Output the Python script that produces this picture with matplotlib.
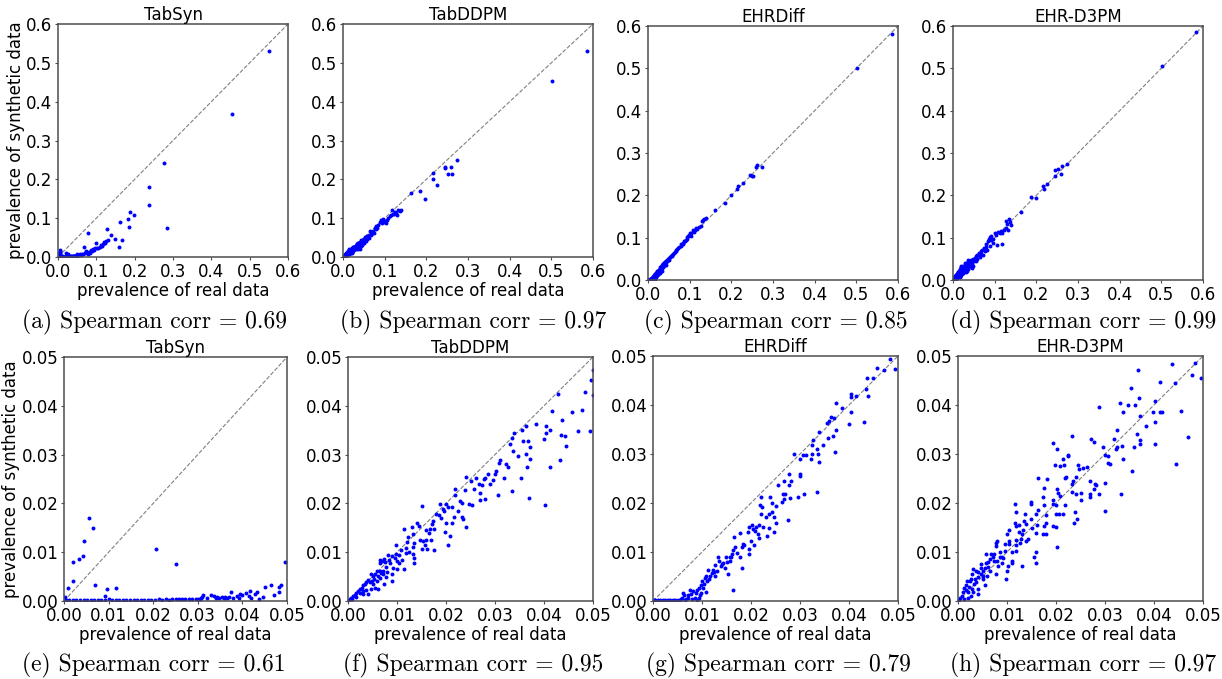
import numpy as np
import matplotlib
matplotlib.use("Agg")
import matplotlib.pyplot as plt

# ---------------- data (prevalence real, prevalence synthetic) ----------------
models = ["TabSyn", "TabDDPM", "EHRDiff", "EHR-D3PM"]
spearman_top = ["0.69", "0.97", "0.85", "0.99"]
spearman_bottom = ["0.61", "0.95", "0.79", "0.97"]
letters_top = ["a", "b", "c", "d"]
letters_bottom = ["e", "f", "g", "h"]
top_ticks = [0.0, 0.1, 0.2, 0.3, 0.4, 0.5, 0.6]
bottom_ticks = [0.00, 0.01, 0.02, 0.03, 0.04, 0.05]

# low-prevalence codes (x < 0.05)
tabsyn_low = [
    (0.0055, 0.0171), (0.0065, 0.0149), (0.0044, 0.0122), (0.0042, 0.0093), (0.0033, 0.0087),
    (0.0021, 0.0079), (0.0021, 0.0042), (0.0010, 0.0027), (0.0069, 0.0033), (0.0097, 0.0025),
    (0.0116, 0.0027), (0.0093, 0.0010), (0.0207, 0.0106), (0.0251, 0.0076), (0.0496, 0.0079),
    (0.0487, 0.0033), (0.0481, 0.0028), (0.0482, 0.0018), (0.0464, 0.0032), (0.0451, 0.0028),
    (0.0446, 0.0009), (0.0432, 0.0018), (0.0428, 0.0015), (0.0416, 0.0021), (0.0414, 0.0011),
    (0.0407, 0.0016), (0.0400, 0.0012), (0.0394, 0.0014), (0.0388, 0.0010), (0.0375, 0.0018),
    (0.0370, 0.0008), (0.0366, 0.0006), (0.0362, 0.0009), (0.0358, 0.0006), (0.0354, 0.0008),
    (0.0348, 0.0006), (0.0344, 0.0009), (0.0340, 0.0007), (0.0336, 0.0011), (0.0330, 0.0013),
    (0.0312, 0.0013), (0.0310, 0.0009), (0.0308, 0.0006), (0.0305, 0.0004), (0.0300, 0.0005),
    (0.0295, 0.0004), (0.0288, 0.0005), (0.0280, 0.0004), (0.0272, 0.0005), (0.0265, 0.0004),
    (0.0258, 0.0004), (0.0250, 0.0004), (0.0243, 0.0005), (0.0236, 0.0003), (0.0228, 0.0004),
    (0.0220, 0.0003), (0.0212, 0.0004), (0.0204, 0.0003), (0.0196, 0.0003), (0.0188, 0.0002),
    (0.0180, 0.0003), (0.0172, 0.0002), (0.0164, 0.0003), (0.0156, 0.0002), (0.0148, 0.0002),
    (0.0140, 0.0002), (0.0132, 0.0002), (0.0124, 0.0003), (0.0116, 0.0002), (0.0108, 0.0002),
    (0.0100, 0.0004), (0.0092, 0.0002), (0.0084, 0.0002), (0.0076, 0.0002), (0.0068, 0.0002),
    (0.0060, 0.0002), (0.0052, 0.0002), (0.0044, 0.0002), (0.0036, 0.0002), (0.0028, 0.0002),
    (0.0020, 0.0002), (0.0012, 0.0002), (0.0005, 0.0003), (0.0003, 0.0008), (0.0378, 0.0006),
    (0.0392, 0.0007), (0.0420, 0.0006), (0.0438, 0.0005), (0.0470, 0.0012), (0.0320, 0.0006),
]

tabddpm_low = [
    (0.0499, 0.0473), (0.0495, 0.0453), (0.0499, 0.0423), (0.0484, 0.0429), (0.0429, 0.0425),
    (0.0416, 0.0389), (0.0458, 0.0387), (0.0477, 0.0392), (0.0436, 0.0370), (0.0404, 0.0359),
    (0.0383, 0.0363), (0.0363, 0.0358), (0.0356, 0.0351), (0.0413, 0.0351), (0.0404, 0.0344),
    (0.0338, 0.0345), (0.0334, 0.0334), (0.0399, 0.0332), (0.0434, 0.0340), (0.0442, 0.0338),
    (0.0445, 0.0318), (0.0470, 0.0348), (0.0493, 0.0349), (0.0331, 0.0322), (0.0358, 0.0327),
    (0.0367, 0.0327), (0.0372, 0.0316), (0.0337, 0.0308), (0.0346, 0.0297), (0.0364, 0.0301),
    (0.0372, 0.0290), (0.0310, 0.0288), (0.0308, 0.0282), (0.0323, 0.0281), (0.0326, 0.0275),
    (0.0365, 0.0275), (0.0412, 0.0275), (0.0432, 0.0289), (0.0303, 0.0267), (0.0286, 0.0260),
    (0.0299, 0.0260), (0.0296, 0.0248), (0.0319, 0.0253), (0.0353, 0.0253), (0.0307, 0.0218),
    (0.0334, 0.0226), (0.0369, 0.0211), (0.0402, 0.0197), (0.0280, 0.0253), (0.0277, 0.0250),
    (0.0267, 0.0240), (0.0274, 0.0237), (0.0262, 0.0253), (0.0241, 0.0255), (0.0250, 0.0245),
    (0.0269, 0.0221), (0.0269, 0.0207), (0.0280, 0.0210), (0.0254, 0.0196), (0.0247, 0.0199),
    (0.0239, 0.0228), (0.0218, 0.0229), (0.0218, 0.0218), (0.0228, 0.0205), (0.0233, 0.0201),
    (0.0232, 0.0173), (0.0235, 0.0168), (0.0241, 0.0152), (0.0213, 0.0193), (0.0205, 0.0192),
    (0.0201, 0.0199), (0.0193, 0.0188), (0.0195, 0.0184), (0.0187, 0.0198), (0.0179, 0.0179),
    (0.0186, 0.0177), (0.0216, 0.0173), (0.0213, 0.0159), (0.0201, 0.0159), (0.0197, 0.0142),
    (0.0209, 0.0133), (0.0205, 0.0115), (0.0173, 0.0164), (0.0172, 0.0158), (0.0175, 0.0147),
    (0.0167, 0.0147), (0.0160, 0.0145), (0.0165, 0.0140), (0.0150, 0.0195), (0.0141, 0.0160),
    (0.0145, 0.0153), (0.0130, 0.0152), (0.0122, 0.0132), (0.0133, 0.0137), (0.0146, 0.0125),
    (0.0153, 0.0123), (0.0160, 0.0126), (0.0157, 0.0114), (0.0162, 0.0107), (0.0176, 0.0104),
    (0.0152, 0.0107), (0.0135, 0.0118), (0.0133, 0.0110), (0.0133, 0.0096), (0.0135, 0.0089),
    (0.0134, 0.0077), (0.0114, 0.0148), (0.0119, 0.0108), (0.0118, 0.0099), (0.0108, 0.0104),
    (0.0110, 0.0085), (0.0105, 0.0095), (0.0097, 0.0114), (0.0097, 0.0096), (0.0090, 0.0092),
    (0.0095, 0.0088), (0.0084, 0.0085), (0.0082, 0.0095), (0.0074, 0.0086), (0.0070, 0.0082),
    (0.0065, 0.0085), (0.0065, 0.0077), (0.0076, 0.0079), (0.0085, 0.0078), (0.0099, 0.0082),
    (0.0105, 0.0078), (0.0114, 0.0066), (0.0100, 0.0066), (0.0092, 0.0067), (0.0078, 0.0070),
    (0.0071, 0.0062), (0.0065, 0.0062), (0.0059, 0.0062), (0.0056, 0.0055), (0.0062, 0.0051),
    (0.0071, 0.0055), (0.0077, 0.0049), (0.0089, 0.0055), (0.0089, 0.0041), (0.0074, 0.0034),
    (0.0066, 0.0047), (0.0059, 0.0041), (0.0046, 0.0055), (0.0050, 0.0051), (0.0041, 0.0044),
    (0.0044, 0.0038), (0.0052, 0.0034), (0.0056, 0.0027), (0.0061, 0.0025), (0.0046, 0.0025),
    (0.0037, 0.0038), (0.0035, 0.0034), (0.0031, 0.0032), (0.0029, 0.0027), (0.0036, 0.0022),
    (0.0041, 0.0015), (0.0024, 0.0025), (0.0021, 0.0021), (0.0025, 0.0016), (0.0017, 0.0016),
    (0.0014, 0.0012), (0.0010, 0.0010), (0.0007, 0.0007), (0.0005, 0.0004), (0.0003, 0.0002),
    (0.0009, 0.0004), (0.0017, 0.0008), (0.0031, 0.0014), (0.0048, 0.0040), (0.0054, 0.0046),
    (0.0068, 0.0058), (0.0080, 0.0060), (0.0120, 0.0120), (0.0125, 0.0100), (0.0170, 0.0126),
    (0.0190, 0.0170), (0.0225, 0.0185), (0.0258, 0.0230), (0.0290, 0.0240), (0.0030, 0.0020),
]

ehrdiff_low = [
    (0.0484, 0.0493), (0.0494, 0.0474), (0.0472, 0.0471), (0.0457, 0.0475), (0.0437, 0.0455),
    (0.0448, 0.0455), (0.0434, 0.0432), (0.0415, 0.0419), (0.0404, 0.0423), (0.0405, 0.0416),
    (0.0438, 0.0418), (0.0404, 0.0385), (0.0401, 0.0361), (0.0430, 0.0366), (0.0385, 0.0393),
    (0.0374, 0.0404), (0.0370, 0.0373), (0.0364, 0.0375), (0.0360, 0.0368), (0.0355, 0.0364),
    (0.0374, 0.0348), (0.0367, 0.0337), (0.0358, 0.0332), (0.0338, 0.0344), (0.0327, 0.0329),
    (0.0325, 0.0319), (0.0347, 0.0319), (0.0334, 0.0310), (0.0371, 0.0304), (0.0307, 0.0298),
    (0.0312, 0.0298), (0.0325, 0.0300), (0.0336, 0.0299), (0.0338, 0.0284), (0.0287, 0.0300),
    (0.0300, 0.0290), (0.0322, 0.0289), (0.0300, 0.0259), (0.0299, 0.0255), (0.0277, 0.0260),
    (0.0282, 0.0244), (0.0277, 0.0237), (0.0267, 0.0244), (0.0256, 0.0236), (0.0308, 0.0219),
    (0.0334, 0.0223), (0.0296, 0.0212), (0.0280, 0.0211), (0.0270, 0.0218), (0.0265, 0.0218),
    (0.0267, 0.0208), (0.0263, 0.0203), (0.0276, 0.0166), (0.0251, 0.0193), (0.0239, 0.0212),
    (0.0243, 0.0200), (0.0221, 0.0212), (0.0218, 0.0195), (0.0222, 0.0192), (0.0243, 0.0181),
    (0.0237, 0.0178), (0.0231, 0.0171), (0.0246, 0.0171), (0.0250, 0.0159), (0.0236, 0.0148),
    (0.0246, 0.0141), (0.0232, 0.0132), (0.0221, 0.0177), (0.0217, 0.0156), (0.0224, 0.0151),
    (0.0211, 0.0151), (0.0209, 0.0142), (0.0214, 0.0136), (0.0217, 0.0129), (0.0202, 0.0156),
    (0.0196, 0.0152), (0.0205, 0.0146), (0.0194, 0.0140), (0.0199, 0.0123), (0.0206, 0.0114),
    (0.0177, 0.0138), (0.0184, 0.0116), (0.0181, 0.0110), (0.0195, 0.0107), (0.0195, 0.0096),
    (0.0166, 0.0130), (0.0168, 0.0110), (0.0164, 0.0104), (0.0172, 0.0097), (0.0161, 0.0096),
    (0.0158, 0.0090), (0.0177, 0.0089), (0.0181, 0.0068), (0.0157, 0.0082), (0.0149, 0.0089),
    (0.0151, 0.0079), (0.0143, 0.0077), (0.0146, 0.0068), (0.0154, 0.0055), (0.0132, 0.0090),
    (0.0135, 0.0082), (0.0127, 0.0074), (0.0138, 0.0071), (0.0131, 0.0062), (0.0123, 0.0064),
    (0.0121, 0.0058), (0.0113, 0.0063), (0.0117, 0.0052), (0.0127, 0.0051), (0.0109, 0.0051),
    (0.0106, 0.0047), (0.0101, 0.0041), (0.0111, 0.0041), (0.0104, 0.0034), (0.0097, 0.0033),
    (0.0093, 0.0027), (0.0102, 0.0027), (0.0108, 0.0018), (0.0097, 0.0016), (0.0087, 0.0016),
    (0.0089, 0.0023), (0.0082, 0.0021), (0.0076, 0.0023), (0.0078, 0.0014), (0.0071, 0.0012),
    (0.0064, 0.0012), (0.0061, 0.0016), (0.0060, 0.0007), (0.0068, 0.0005), (0.0085, 0.0007),
    (0.0093, 0.0007), (0.0095, 0.0012), (0.0164, 0.0022), (0.0055, 0.0003), (0.0090, 0.0003),
    (0.0080, 0.0004), (0.0072, 0.0006), (0.0065, 0.0003), (0.0050, 0.0002), (0.0045, 0.0002),
    (0.0040, 0.0002), (0.0035, 0.0002), (0.0030, 0.0002), (0.0025, 0.0002), (0.0020, 0.0002),
    (0.0015, 0.0002), (0.0010, 0.0002), (0.0005, 0.0002), (0.0002, 0.0002), (0.0058, 0.0004),
    (0.0115, 0.0045), (0.0125, 0.0060), (0.0140, 0.0075), (0.0160, 0.0090), (0.0185, 0.0115),
]

ehrd3pm_low = [
    (0.0437, 0.0484), (0.0484, 0.0485), (0.0477, 0.0462), (0.0495, 0.0455), (0.0443, 0.0445),
    (0.0413, 0.0447), (0.0367, 0.0471), (0.0354, 0.0434), (0.0402, 0.0409), (0.0369, 0.0415),
    (0.0331, 0.0404), (0.0346, 0.0401), (0.0361, 0.0401), (0.0288, 0.0395), (0.0337, 0.0386),
    (0.0398, 0.0386), (0.0413, 0.0386), (0.0416, 0.0386), (0.0456, 0.0388), (0.0371, 0.0378),
    (0.0403, 0.0366), (0.0383, 0.0358), (0.0325, 0.0348), (0.0365, 0.0340), (0.0372, 0.0329),
    (0.0372, 0.0321), (0.0360, 0.0315), (0.0402, 0.0321), (0.0470, 0.0334), (0.0318, 0.0331),
    (0.0335, 0.0317), (0.0325, 0.0314), (0.0323, 0.0310), (0.0337, 0.0289), (0.0295, 0.0314),
    (0.0271, 0.0331), (0.0277, 0.0325), (0.0232, 0.0337), (0.0301, 0.0297), (0.0307, 0.0296),
    (0.0307, 0.0281), (0.0311, 0.0279), (0.0356, 0.0266), (0.0444, 0.0279), (0.0263, 0.0274),
    (0.0255, 0.0271), (0.0244, 0.0278), (0.0246, 0.0270), (0.0241, 0.0253), (0.0221, 0.0253),
    (0.0218, 0.0252), (0.0214, 0.0290), (0.0224, 0.0297), (0.0225, 0.0295), (0.0216, 0.0278),
    (0.0209, 0.0275), (0.0203, 0.0311), (0.0194, 0.0323), (0.0198, 0.0278), (0.0182, 0.0249),
    (0.0163, 0.0251), (0.0235, 0.0244), (0.0233, 0.0238), (0.0232, 0.0223), (0.0240, 0.0219),
    (0.0252, 0.0221), (0.0250, 0.0207), (0.0269, 0.0244), (0.0280, 0.0238), (0.0277, 0.0229),
    (0.0282, 0.0236), (0.0288, 0.0219), (0.0269, 0.0219), (0.0269, 0.0212), (0.0300, 0.0241),
    (0.0333, 0.0218), (0.0300, 0.0184), (0.0239, 0.0181), (0.0243, 0.0167), (0.0237, 0.0160),
    (0.0218, 0.0195), (0.0214, 0.0178), (0.0207, 0.0178), (0.0201, 0.0177), (0.0201, 0.0195),
    (0.0203, 0.0229), (0.0205, 0.0221), (0.0209, 0.0215), (0.0201, 0.0151), (0.0202, 0.0110),
    (0.0193, 0.0207), (0.0194, 0.0197), (0.0176, 0.0230), (0.0173, 0.0212), (0.0176, 0.0195),
    (0.0179, 0.0175), (0.0179, 0.0159), (0.0173, 0.0137), (0.0180, 0.0137), (0.0175, 0.0153),
    (0.0194, 0.0153), (0.0164, 0.0186), (0.0159, 0.0178), (0.0161, 0.0156), (0.0159, 0.0138),
    (0.0160, 0.0099), (0.0160, 0.0077), (0.0156, 0.0089), (0.0148, 0.0203), (0.0149, 0.0197),
    (0.0148, 0.0168), (0.0142, 0.0127), (0.0137, 0.0178), (0.0139, 0.0158), (0.0135, 0.0164),
    (0.0133, 0.0145), (0.0131, 0.0137), (0.0129, 0.0127), (0.0130, 0.0071), (0.0138, 0.0123),
    (0.0119, 0.0103), (0.0118, 0.0125), (0.0116, 0.0197), (0.0118, 0.0181), (0.0116, 0.0160),
    (0.0118, 0.0153), (0.0124, 0.0156), (0.0126, 0.0119), (0.0119, 0.0115), (0.0105, 0.0144),
    (0.0105, 0.0123), (0.0105, 0.0116), (0.0110, 0.0099), (0.0110, 0.0082), (0.0111, 0.0078),
    (0.0103, 0.0071), (0.0101, 0.0062), (0.0096, 0.0116), (0.0095, 0.0103), (0.0092, 0.0088),
    (0.0099, 0.0137), (0.0097, 0.0044), (0.0085, 0.0101), (0.0089, 0.0089), (0.0080, 0.0123),
    (0.0077, 0.0119), (0.0077, 0.0112), (0.0074, 0.0096), (0.0071, 0.0089), (0.0073, 0.0082),
    (0.0080, 0.0082), (0.0082, 0.0071), (0.0077, 0.0055), (0.0067, 0.0096), (0.0065, 0.0085),
    (0.0062, 0.0079), (0.0058, 0.0096), (0.0058, 0.0077), (0.0056, 0.0068), (0.0065, 0.0062),
    (0.0059, 0.0052), (0.0052, 0.0062), (0.0052, 0.0051), (0.0047, 0.0075), (0.0046, 0.0068),
    (0.0046, 0.0055), (0.0056, 0.0032), (0.0041, 0.0059), (0.0040, 0.0049), (0.0037, 0.0062),
    (0.0035, 0.0045), (0.0037, 0.0038), (0.0033, 0.0034), (0.0040, 0.0025), (0.0041, 0.0014),
    (0.0031, 0.0065), (0.0028, 0.0055), (0.0027, 0.0044), (0.0024, 0.0040), (0.0022, 0.0029),
    (0.0028, 0.0025), (0.0018, 0.0041), (0.0017, 0.0032), (0.0016, 0.0023), (0.0021, 0.0018),
    (0.0031, 0.0018), (0.0012, 0.0027), (0.0010, 0.0019), (0.0009, 0.0011), (0.0013, 0.0005),
    (0.0005, 0.0007), (0.0003, 0.0003), (0.0020, 0.0007), (0.0027, 0.0010), (0.0050, 0.0045),
    (0.0062, 0.0070), (0.0085, 0.0090), (0.0090, 0.0078), (0.0125, 0.0140), (0.0150, 0.0150),
]

# higher-prevalence codes (x >= 0.05), only visible in the top row
tabsyn_high = [
    (0.551, 0.531), (0.455, 0.368), (0.277, 0.243), (0.238, 0.180), (0.238, 0.134),
    (0.284, 0.074), (0.188, 0.115), (0.197, 0.107), (0.182, 0.097), (0.186, 0.076),
    (0.163, 0.090), (0.167, 0.045), (0.158, 0.027), (0.148, 0.047), (0.139, 0.057),
    (0.128, 0.072), (0.131, 0.043), (0.125, 0.040), (0.120, 0.038), (0.118, 0.033),
    (0.112, 0.030), (0.109, 0.027), (0.100, 0.036), (0.103, 0.023), (0.097, 0.024),
    (0.092, 0.021), (0.088, 0.015), (0.085, 0.019), (0.080, 0.014), (0.077, 0.062),
    (0.068, 0.026), (0.074, 0.012), (0.070, 0.010), (0.066, 0.009), (0.062, 0.007),
    (0.057, 0.007), (0.053, 0.005), (0.095, 0.018), (0.105, 0.022), (0.115, 0.028),
    (0.122, 0.035), (0.083, 0.011), (0.078, 0.008), (0.060, 0.004), (0.072, 0.016),
]

tabddpm_high = [
    (0.585, 0.531), (0.502, 0.452), (0.273, 0.249), (0.259, 0.231), (0.245, 0.233),
    (0.246, 0.228), (0.251, 0.214), (0.261, 0.214), (0.215, 0.216), (0.217, 0.200),
    (0.225, 0.185), (0.185, 0.170), (0.197, 0.149), (0.162, 0.165), (0.140, 0.120),
    (0.133, 0.122), (0.128, 0.113), (0.117, 0.120), (0.122, 0.112), (0.105, 0.096),
    (0.096, 0.099), (0.088, 0.089), (0.080, 0.079), (0.112, 0.106), (0.108, 0.101),
    (0.100, 0.092), (0.093, 0.087), (0.090, 0.095), (0.085, 0.083), (0.076, 0.075),
    (0.072, 0.068), (0.070, 0.062), (0.067, 0.060), (0.065, 0.066), (0.062, 0.057),
    (0.060, 0.052), (0.058, 0.055), (0.055, 0.048), (0.053, 0.051), (0.052, 0.044),
    (0.068, 0.056), (0.075, 0.063), (0.063, 0.050), (0.057, 0.046), (0.054, 0.042),
    (0.078, 0.071), (0.082, 0.074), (0.098, 0.090), (0.103, 0.088), (0.115, 0.108),
    (0.125, 0.117), (0.136, 0.118), (0.119, 0.110), (0.129, 0.109),
]

ehrdiff_high = [
    (0.586, 0.581), (0.501, 0.500), (0.273, 0.268), (0.261, 0.272), (0.259, 0.268),
    (0.249, 0.246), (0.245, 0.248), (0.253, 0.246), (0.227, 0.230), (0.217, 0.223),
    (0.214, 0.216), (0.198, 0.200), (0.185, 0.182), (0.161, 0.165), (0.139, 0.146),
    (0.132, 0.142), (0.129, 0.139), (0.135, 0.143), (0.122, 0.125), (0.116, 0.123),
    (0.112, 0.118), (0.108, 0.117), (0.104, 0.112), (0.100, 0.110), (0.096, 0.104),
    (0.094, 0.101), (0.090, 0.095), (0.086, 0.091), (0.083, 0.088), (0.080, 0.085),
    (0.078, 0.081), (0.075, 0.078), (0.072, 0.076), (0.070, 0.073), (0.067, 0.070),
    (0.064, 0.067), (0.062, 0.064), (0.060, 0.061), (0.057, 0.058), (0.055, 0.056),
    (0.053, 0.054), (0.051, 0.052), (0.098, 0.106), (0.088, 0.093), (0.110, 0.113),
    (0.118, 0.121), (0.093, 0.096), (0.068, 0.068), (0.058, 0.056), (0.085, 0.085),
    (0.102, 0.104), (0.126, 0.128),
]

ehrd3pm_high = [
    (0.584, 0.585), (0.501, 0.505), (0.273, 0.275), (0.261, 0.269), (0.252, 0.263),
    (0.245, 0.259), (0.245, 0.246), (0.259, 0.251), (0.226, 0.226), (0.217, 0.222),
    (0.218, 0.215), (0.186, 0.196), (0.199, 0.194), (0.162, 0.160), (0.135, 0.145),
    (0.136, 0.138), (0.130, 0.132), (0.132, 0.118), (0.117, 0.085), (0.106, 0.083),
    (0.096, 0.088), (0.088, 0.080), (0.088, 0.102), (0.092, 0.104), (0.100, 0.110),
    (0.108, 0.114), (0.115, 0.116), (0.122, 0.118), (0.126, 0.122), (0.112, 0.112),
    (0.104, 0.106), (0.095, 0.098), (0.085, 0.092), (0.080, 0.085), (0.078, 0.079),
    (0.074, 0.075), (0.070, 0.072), (0.066, 0.068), (0.062, 0.063), (0.060, 0.060),
    (0.057, 0.058), (0.055, 0.056), (0.052, 0.052), (0.068, 0.062), (0.072, 0.060),
    (0.064, 0.055), (0.058, 0.050), (0.054, 0.046), (0.086, 0.098), (0.090, 0.094),
    (0.082, 0.072), (0.076, 0.068), (0.118, 0.110), (0.128, 0.140), (0.140, 0.130),
]

low_sets = [tabsyn_low, tabddpm_low, ehrdiff_low, ehrd3pm_low]
high_sets = [tabsyn_high, tabddpm_high, ehrdiff_high, ehrd3pm_high]

# ---------------- layout (pixel boxes: left, right, top, bottom) ----------------
W, H = 1222, 679
top_boxes = [(58, 288, 24, 257), (343, 593, 24, 257), (648, 898, 26, 280), (953, 1203, 26, 280)]
bottom_boxes = [(64, 287, 357, 601), (348, 593, 357, 601), (653, 898, 356, 601), (958, 1203, 356, 601)]
caption_x_top = [154, 473, 776, 1083]
caption_x_bottom = [154, 473, 778, 1083]
caption_y_top = 322
caption_y_bottom = 665

fig = plt.figure(figsize=(W / 100, H / 100), dpi=100)


def make_axes(box):
    l, r, t, b = box
    return fig.add_axes([l / W, 1 - b / H, (r - l) / W, (b - t) / H])


def style(ax, lim, ticks, fmt):
    ax.set_xlim(0, lim)
    ax.set_ylim(0, lim)
    ax.set_xticks(ticks)
    ax.set_yticks(ticks)
    ax.set_xticklabels([fmt.format(t) for t in ticks])
    ax.set_yticklabels([fmt.format(t) for t in ticks])
    ax.tick_params(labelsize=12, length=2.5, width=0.8, color="0.3", pad=1.5)
    for s in ax.spines.values():
        s.set_color("0.3")
        s.set_linewidth(1.1)


def draw(ax, pts_low, pts_high, lim):
    pts = np.array(pts_low + pts_high)
    ax.plot([0, lim], [0, lim], ls="--", color="gray", lw=0.8, zorder=1)
    ax.scatter(pts[:, 0], pts[:, 1], s=8, color="blue", linewidths=0, zorder=2)


for i in range(4):
    ax = make_axes(top_boxes[i])
    draw(ax, low_sets[i], high_sets[i], 0.6)
    style(ax, 0.6, top_ticks, "{:.1f}")
    ax.set_title(models[i], fontsize=12, pad=3)
    if i < 2:
        ax.set_xlabel("prevalence of real data", fontsize=12, labelpad=1)
    if i == 0:
        ax.set_ylabel("prevalence of synthetic data", fontsize=12, labelpad=1)
    fig.text(caption_x_top[i] / W, 1 - caption_y_top / H,
             f"({letters_top[i]}) Spearman corr = {spearman_top[i]}",
             family="cmr10", fontsize=17, ha="center", va="center")

for i in range(4):
    ax = make_axes(bottom_boxes[i])
    draw(ax, low_sets[i], high_sets[i], 0.05)
    style(ax, 0.05, bottom_ticks, "{:.2f}")
    ax.set_title(models[i], fontsize=12, pad=3)
    ax.set_xlabel("prevalence of real data", fontsize=12, labelpad=1)
    if i == 0:
        ax.set_ylabel("prevalence of synthetic data", fontsize=12, labelpad=1)
    fig.text(caption_x_bottom[i] / W, 1 - caption_y_bottom / H,
             f"({letters_bottom[i]}) Spearman corr = {spearman_bottom[i]}",
             family="cmr10", fontsize=17, ha="center", va="center")

fig.savefig("out.png", dpi=100)
